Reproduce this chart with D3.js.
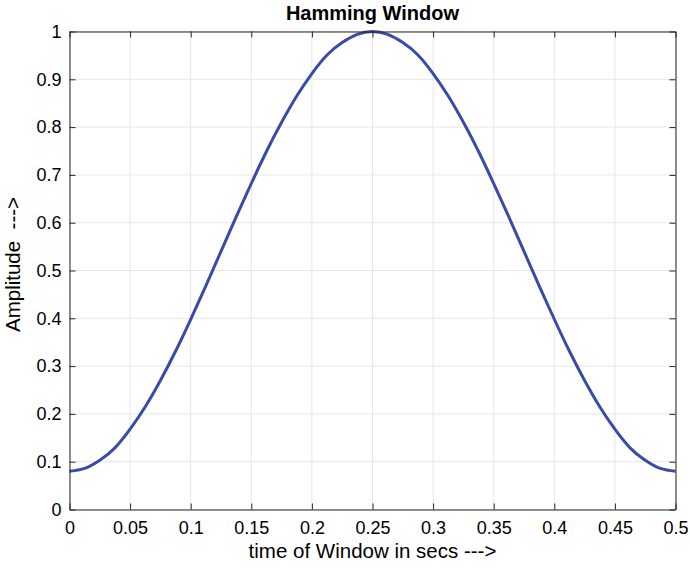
<!DOCTYPE html>
<html><head><meta charset="utf-8">
<script src="https://cdn.jsdelivr.net/npm/d3@7"></script>
<style>body{margin:0;background:#fff}svg{display:block;font-family:"Liberation Sans",Arial,Helvetica,sans-serif}</style>
</head><body><svg id="c" width="690" height="573"></svg>
<script>
const times = [0,0.0125,0.025,0.0375,0.05,0.0625,0.075,0.0875,0.1,0.1125,0.125,0.1375,0.15,0.1625,0.175,0.1875,0.2,0.2125,0.225,0.2375,0.25,0.2625,0.275,0.2875,0.3,0.3125,0.325,0.3375,0.35,0.3625,0.375,0.3875,0.4,0.4125,0.425,0.4375,0.45,0.4625,0.475,0.4875,0.5];
const amplitude = [0.080,0.086,0.103,0.129,0.168,0.215,0.270,0.331,0.398,0.468,0.540,0.612,0.682,0.749,0.810,0.865,0.912,0.951,0.977,0.994,1.000,0.994,0.977,0.951,0.912,0.865,0.810,0.749,0.682,0.612,0.540,0.468,0.398,0.331,0.270,0.215,0.168,0.129,0.103,0.086,0.080];
const xTicks = [0,0.05,0.1,0.15,0.2,0.25,0.3,0.35,0.4,0.45,0.5];
const yTicks = [0,0.1,0.2,0.3,0.4,0.5,0.6,0.7,0.8,0.9,1];
const xTickLabels = ["0","0.05","0.1","0.15","0.2","0.25","0.3","0.35","0.4","0.45","0.5"];
const yTickLabels = ["0","0.1","0.2","0.3","0.4","0.5","0.6","0.7","0.8","0.9","1"];

const L=69.5,R=675.5,T=31.5,B=509.5;
const svg=d3.select("#c");
const x=d3.scaleLinear().domain([0,0.5]).range([L,R]);
const y=d3.scaleLinear().domain([0,1]).range([B,T]);
const axisCol="#262626";

// grid
svg.append("g").selectAll("line").data(xTicks).join("line")
 .attr("x1",d=>x(d)).attr("x2",d=>x(d)).attr("y1",T).attr("y2",B)
 .attr("stroke","#e6e6e6").attr("stroke-width",1);
svg.append("g").selectAll("line").data(yTicks).join("line")
 .attr("y1",d=>y(d)).attr("y2",d=>y(d)).attr("x1",L).attr("x2",R)
 .attr("stroke","#e6e6e6").attr("stroke-width",1);

// curve
const data=times.map((t,i)=>[t,amplitude[i]]);
svg.append("path").datum(data)
 .attr("d",d3.line().x(d=>x(d[0])).y(d=>y(d[1])).curve(d3.curveNatural))
 .attr("fill","none").attr("stroke","#3a4aa7").attr("stroke-width",3);

// axes
const tl=6;
const ax=d3.axisBottom(x).tickValues(xTicks).tickFormat((d,i)=>xTickLabels[i]).tickSizeInner(-tl).tickSizeOuter(0).tickPadding(12);
const gx=svg.append("g").attr("transform",`translate(0,${B})`).call(ax);
const axT=d3.axisTop(x).tickValues(xTicks).tickFormat("").tickSizeInner(-tl).tickSizeOuter(0);
const gxt=svg.append("g").attr("transform",`translate(0,${T})`).call(axT);
const ay=d3.axisLeft(y).tickValues(yTicks).tickFormat((d,i)=>yTickLabels[i]).tickSizeInner(-tl).tickSizeOuter(0).tickPadding(8);
const gy=svg.append("g").attr("transform",`translate(${L},0)`).call(ay);
const ayR=d3.axisRight(y).tickValues(yTicks).tickFormat("").tickSizeInner(-tl).tickSizeOuter(0);
const gyr=svg.append("g").attr("transform",`translate(${R},0)`).call(ayR);
[gx,gxt,gy,gyr].forEach(g=>{
 g.attr("font-size",null).attr("font-family",null);
 g.selectAll("path,line").attr("stroke",axisCol).attr("stroke-width",1);
 g.selectAll("text").attr("fill","#000").style("font-size","18px").style("font-family","'Liberation Sans',Arial,sans-serif");
});

// labels
svg.append("text").attr("x",(L+R)/2).attr("y",20).attr("text-anchor","middle")
 .style("font-size","20px").style("font-weight","bold").text("Hamming Window");
svg.append("text").attr("x",(L+R)/2).attr("y",558).attr("text-anchor","middle")
 .style("font-size","20.5px").text("time of Window in secs --->");
svg.append("text").attr("transform",`translate(20,${(T+B)/2-6}) rotate(-90)`).attr("text-anchor","middle")
 .style("font-size","20.5px").style("white-space","pre").attr("xml:space","preserve").text("Amplitude  --->");
</script></body></html>
